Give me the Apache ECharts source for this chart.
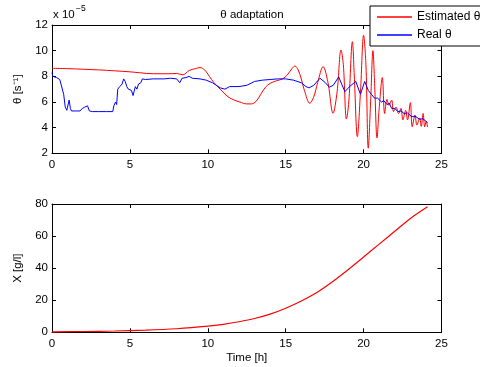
<!DOCTYPE html>
<html><head><meta charset="utf-8">
<script src="https://cdn.jsdelivr.net/npm/echarts@6/dist/echarts.min.js"></script>
<style>html,body{margin:0;padding:0;background:#fff}#c{width:480px;height:367px}</style>
</head><body><div id="c"></div>
<script>
// time [h], theta in units of 1e-5 s^-1
const estimatedTheta = [[0,8.62],[1,8.6],[2,8.55],[3,8.5],[4,8.43],[5,8.35],[5.6,8.28],[6.5,8.2],[7.5,8.2],[8.0,8.22],[8.4,8.12],[8.8,8.45],[9.2,8.6],[9.5,8.68],[9.8,8.5],[10.1,8.0],[10.4,7.5],[10.8,6.99],[11.3,6.4],[11.7,6.15],[12.05,6.0],[12.5,5.85],[12.8,5.85],[13.1,6.05],[13.4,6.6],[13.7,7.15],[14.0,7.45],[14.4,7.65],[14.8,7.8],[15.1,8.1],[15.4,8.6],[15.6,8.8],[15.8,8.5],[16.0,7.8],[16.2,6.9],[16.55,5.9],[16.8,6.4],[17.05,7.5],[17.4,8.75],[17.7,7.6],[18.04,5.12],[18.3,6.8],[18.55,10.05],[18.7,8.9],[18.9,4.67],[19.05,6.0],[19.28,10.7],[19.4,8.1],[19.6,3.3],[19.8,6.8],[20.0,11.2],[20.15,8.9],[20.3,2.4],[20.45,6.0],[20.6,10.0],[20.72,7.0],[20.86,3.2],[21.0,5.5],[21.2,7.9],[21.35,5.1],[21.5,6.2],[21.63,5.75],[21.8,6.15],[21.92,5.25],[22.08,5.6],[22.25,5.1],[22.4,5.5],[22.52,4.6],[22.7,5.35],[22.82,4.6],[23.0,5.95],[23.12,4.07],[23.3,4.98],[23.42,4.2],[23.6,4.75],[23.7,4.1],[23.82,5.1],[23.92,4.07],[24.02,4.5],[24.1,4.05]];
const realTheta = [[0,8.3],[0.05,8.0],[0.3,7.9],[0.5,7.75],[0.62,7.6],[0.75,6.6],[0.85,5.6],[0.95,5.35],[1.05,5.3],[1.1,6.15],[1.18,5.5],[1.25,5.3],[1.5,5.3],[1.8,5.3],[1.95,5.5],[2.1,5.6],[2.2,5.5],[2.28,5.7],[2.4,5.3],[2.6,5.25],[3.0,5.25],[3.5,5.25],[3.9,5.25],[3.97,5.7],[4.02,5.55],[4.08,6.0],[4.15,5.8],[4.22,7.0],[4.35,7.2],[4.5,7.4],[4.6,7.8],[4.7,7.6],[4.8,7.2],[4.9,7.0],[5.0,6.85],[5.1,6.9],[5.2,6.5],[5.3,6.5],[5.35,7.2],[5.45,7.0],[5.55,7.4],[5.7,7.5],[5.8,7.8],[6.0,7.75],[6.5,7.8],[7.0,7.8],[7.1,7.95],[7.2,7.8],[7.6,7.85],[8.0,7.8],[8.2,7.5],[8.35,7.85],[8.6,7.9],[8.8,8.0],[9.0,7.85],[9.5,7.8],[9.9,7.7],[10.3,7.5],[10.8,7.1],[11.1,7.0],[11.4,7.2],[12.0,7.2],[12.5,7.3],[13.0,7.6],[13.5,7.7],[14.0,7.75],[14.5,7.8],[15.0,7.8],[15.5,7.7],[16.0,7.5],[16.3,7.2],[16.5,7.1],[16.8,7.3],[17.2,7.85],[17.55,7.5],[17.8,7.15],[18.05,7.3],[18.4,7.95],[18.8,6.8],[19.1,7.2],[19.5,7.6],[19.8,6.6],[20.07,7.6],[20.3,6.9],[20.5,6.6],[20.7,6.3],[20.9,6.3],[21.15,6.0],[21.3,6.1],[21.5,5.8],[21.65,5.9],[21.8,5.5],[22.0,5.5],[22.2,5.25],[22.4,5.3],[22.6,5.1],[22.8,5.15],[23.1,4.85],[23.3,4.9],[23.6,4.65],[23.8,4.7],[24.1,4.4]];
const biomass = [[0,0.3],[2,0.5],[4,0.8],[6,1.3],[8,2.2],[10,3.8],[11,5.0],[12,6.6],[13,8.6],[14,11.3],[15,15.0],[16,19.5],[17,24.8],[18,31.5],[19,39.0],[20,47.0],[21,55.0],[22,63.0],[23,71.0],[24.1,78.3]];
const xTicks = {min:0, max:25, interval:5};
const thetaTicks = {min:2, max:12, interval:2};
const xTicksBottom = {min:0, max:80, interval:20};

const FONT = 'Liberation Sans';
const lab = {color:'#000', fontSize:11.5, fontFamily:FONT};
function xa(grid, show, name){
  return {type:'value', gridIndex:grid, position: show?'bottom':'top', min:xTicks.min, max:xTicks.max, interval:xTicks.interval,
    axisLine:{onZero:false, lineStyle:{color:'#000', width:1}}, axisTick:{inside:true, length:4, lineStyle:{color:'#000'}},
    axisLabel: show? Object.assign({margin:6}, lab) : {show:false}, splitLine:{show:false},
    name: name||'', nameLocation:'middle', nameGap:20, nameTextStyle:lab};
}
function ya(grid, t, show, name){
  return {type:'value', gridIndex:grid, position: show?'left':'right', min:t.min, max:t.max, interval:t.interval,
    axisLine:{onZero:false, lineStyle:{color:'#000', width:1}}, axisTick:{inside:true, length:4, lineStyle:{color:'#000'}},
    axisLabel: show? Object.assign({margin:4}, lab) : {show:false}, splitLine:{show:false},
    name: name||'', nameLocation:'middle', nameGap:26, nameTextStyle:lab};
}
const chart = echarts.init(document.getElementById('c'), null, {renderer:'canvas'});
chart.setOption({
  animation:false,
  backgroundColor:'#fff',
  textStyle:{fontFamily:FONT},
  grid:[
    {left:52, top:25, width:389.5, height:128.3},
    {left:52, top:204, width:389.5, height:128.3}
  ],
  xAxis:[xa(0,true), xa(0,false), xa(1,true,'Time [h]'), xa(1,false)],
  yAxis:[ya(0,thetaTicks,true,'θ [s⁻¹]'), ya(0,thetaTicks,false), ya(1,xTicksBottom,true,'X [g/l]'), ya(1,xTicksBottom,false)],
  title:{text:'θ adaptation', left:247, top:4, textAlign:'center', textStyle:{fontSize:11.5, fontWeight:'normal', color:'#000', fontFamily:FONT}},
  legend:{data:[
      {name:'Estimated θ', itemStyle:{color:'#ff0000'}},
      {name:'Real θ', itemStyle:{color:'#0000ff'}}
    ], orient:'vertical', left:370, top:6, padding:[4,6,4,7], itemGap:4, itemWidth:35, itemHeight:1.5,
    icon:'rect',
    backgroundColor:'#fff', borderColor:'#000', borderWidth:1, borderRadius:0,
    textStyle:{fontSize:12, color:'#000', fontFamily:FONT, lineHeight:14}},
  graphic:[
    {type:'text', left:53, top:9, style:{text:'x 10', fontSize:11.5, fill:'#000', fontFamily:FONT}},
    {type:'text', left:76, top:4, style:{text:'−5', fontSize:8.5, fill:'#000', fontFamily:FONT}}
  ],
  series:[
    {name:'Estimated θ', type:'line', xAxisIndex:0, yAxisIndex:0, data:estimatedTheta, symbol:'none', smooth:0.35,
      lineStyle:{color:'#ff0000', width:1}, itemStyle:{color:'#ff0000'}, clip:true, z:2},
    {name:'Real θ', type:'line', xAxisIndex:0, yAxisIndex:0, data:realTheta, symbol:'none',
      lineStyle:{color:'#0000ff', width:1}, itemStyle:{color:'#0000ff'}, clip:true, z:3},
    {name:'X', type:'line', xAxisIndex:2, yAxisIndex:2, data:biomass, symbol:'none', smooth:0.3,
      lineStyle:{color:'#ff0000', width:1.2}, itemStyle:{color:'#ff0000'}}
  ]
});
</script></body></html>
